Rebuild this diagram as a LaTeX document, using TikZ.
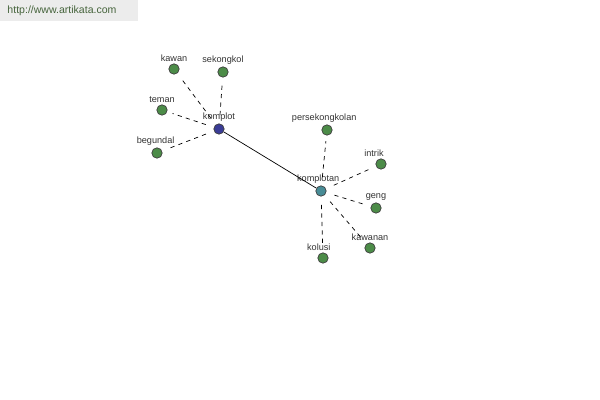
\documentclass[tikz,border=0pt]{standalone}
\usepackage{fontspec}
\setmainfont{Liberation Sans}
\usetikzlibrary{positioning}
\definecolor{leafgreen}{RGB}{76,140,72}
\definecolor{hubblue}{RGB}{58,60,150}
\definecolor{hubteal}{RGB}{72,140,150}
\definecolor{bannergray}{RGB}{236,236,236}
\definecolor{urlgreen}{RGB}{70,100,60}

\begin{document}
\begin{tikzpicture}[
  x=0.025cm, y=-0.025cm,
  word/.style={circle,draw=black!75,line width=0.5pt,minimum size=0.26cm,inner sep=0pt,fill=leafgreen},
  lbl/.style={font=\fontsize{6.5}{7}\selectfont,text=black!80,inner sep=0pt,label distance=1.2pt},
  link/.style={dashed,line width=0.5pt,shorten <=6pt,shorten >=4pt},
]
\useasboundingbox (0,0) rectangle (600,400);

% Banner
\fill[bannergray] (0,0) rectangle (138,21);
\node[font=\fontsize{7.5}{9}\selectfont,text=urlgreen] (url) at (62,11) {http://www.artikata.com};

% Hubs
\node[word,fill=hubblue,label={[lbl]above:komplot}] (komplot) at (219,129) {};
\node[word,fill=hubteal,label={[lbl,xshift=-2pt]above:komplotan}] (komplotan) at (321,191) {};

% Words round komplot
\node[word,label={[lbl]above:kawan}] (kawan) at (174,69) {};
\node[word,label={[lbl]above:sekongkol}] (sekongkol) at (223,72) {};
\node[word,label={[lbl]above:teman}] (teman) at (162,110) {};
\node[word,label={[lbl,xshift=-1pt]above:begundal}] (begundal) at (157,153) {};

% Words round komplotan
\node[word,label={[lbl,xshift=-2pt]above:persekongkolan}] (persekongkolan) at (327,130) {};
\node[word,label={[lbl,xshift=-5pt]above:intrik}] (intrik) at (381,164) {};
\node[word,label={[lbl]above:geng}] (geng) at (376,208) {};
\node[word,label={[lbl]above:kawanan}] (kawanan) at (370,248) {};
\node[word,label={[lbl,xshift=-3pt]above:kolusi}] (kolusi) at (323,258) {};

% Links
\draw[line width=0.5pt] (komplot) -- (komplotan);
\foreach \w in {kawan,sekongkol,teman,begundal}
  \draw[link] (komplot) -- (\w);
\foreach \w in {persekongkolan,intrik,geng,kawanan,kolusi}
  \draw[link] (komplotan) -- (\w);

\end{tikzpicture}
\end{document}
